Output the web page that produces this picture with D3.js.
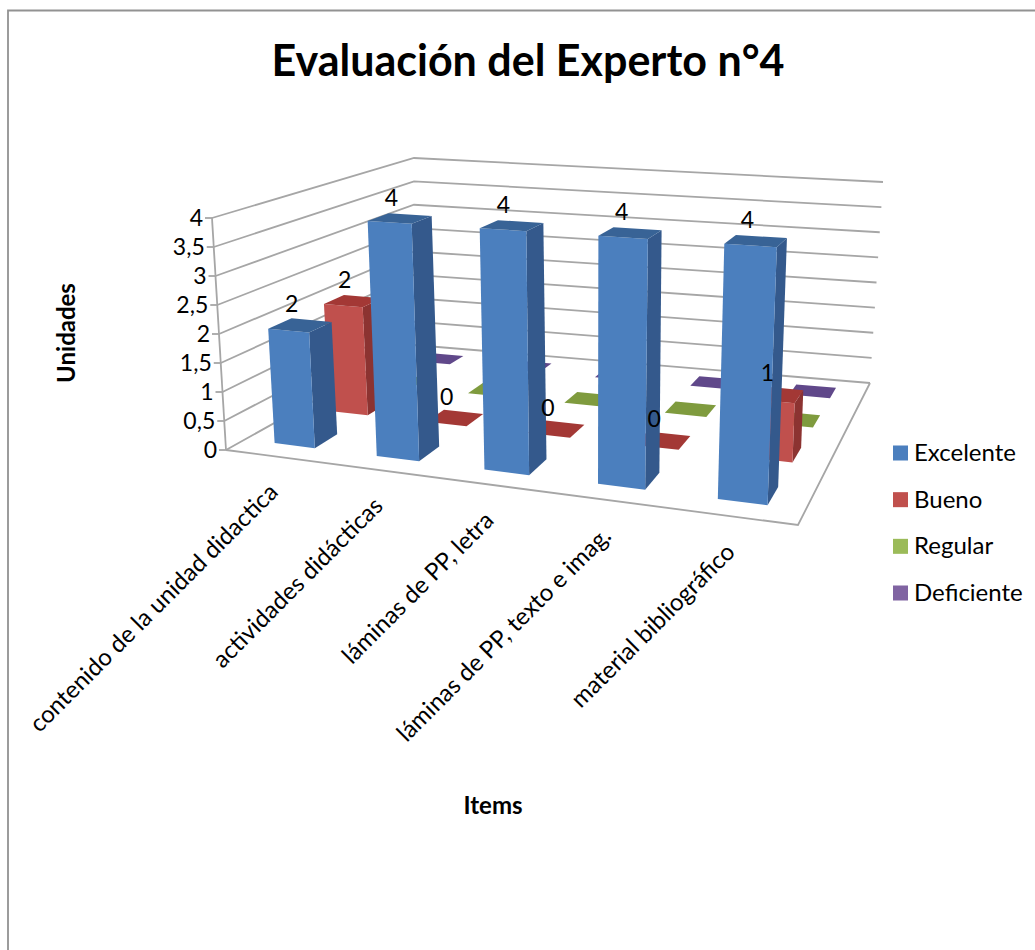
<!DOCTYPE html>
<html>
<head>
<meta charset="utf-8">
<script src="https://cdn.jsdelivr.net/npm/d3@7"></script>
<style>
  html, body { margin: 0; padding: 0; background: #fff; }
  svg { display: block; }
  text { font-family: Lato, "Open Sans", sans-serif; fill: #000; }
</style>
</head>
<body>
<div id="chart"></div>
<script>
// data
var categories = ["contenido de la unidad didactica", "actividades didácticas", "láminas de PP, letra", "láminas de PP, texto e imag.", "material bibliográfico"];
var seriesNames = ["Excelente", "Bueno", "Regular", "Deficiente"];
var excelente = [2, 4, 4, 4, 4];
var bueno = [2, 0, 0, 0, 1];
var regular = [0, 0, 0, 0, 0];
var deficiente = [0, 0, 0, 0, 0];
var yTicks = [0, 0.5, 1, 1.5, 2, 2.5, 3, 3.5, 4];
var yTickLabels = ["0", "0,5", "1", "1,5", "2", "2,5", "3", "3,5", "4"];

var seriesValues = [excelente, bueno, regular, deficiente];
var labelled = [true, true, false, false];

var width = 1035, height = 950;

var colors = [
    {front: "#4b7fbe", side: "#34598c", top: "#386396"},
    {front: "#c0504d", side: "#8c3331", top: "#a33835"},
    {front: "#9bbb59", side: "#6f8a3a", top: "#7f9b3e"},
    {front: "#8064a2", side: "#564077", top: "#60488a"}
];

// corners of the chart box on screen: front left, front right, back right, back left
var floorQuad = [[226, 450], [798, 525], [870, 383], [414, 345]];
var topQuad = [[212, 218], [810, 257], [883, 182], [414, 158]];

// unit square -> quad (projective)
function homography(q) {
    var dx1 = q[1][0] - q[2][0], dx2 = q[3][0] - q[2][0], sx = q[0][0] - q[1][0] + q[2][0] - q[3][0];
    var dy1 = q[1][1] - q[2][1], dy2 = q[3][1] - q[2][1], sy = q[0][1] - q[1][1] + q[2][1] - q[3][1];
    var den = dx1 * dy2 - dx2 * dy1;
    var g = (sx * dy2 - dx2 * sy) / den, h = (dx1 * sy - sx * dy1) / den;
    var a = q[1][0] - q[0][0] + g * q[1][0], b = q[3][0] - q[0][0] + h * q[3][0], c = q[0][0];
    var d = q[1][1] - q[0][1] + g * q[1][1], e = q[3][1] - q[0][1] + h * q[3][1], f = q[0][1];
    return function(u, v) {
        var w = g * u + h * v + 1;
        return [(a * u + b * v + c) / w, (d * u + e * v + f) / w];
    };
}
var floorH = homography(floorQuad), topH = homography(topQuad);

var x = d3.scaleBand().domain(d3.range(categories.length)).range([0, 1]).paddingInner(0.6).paddingOuter(0.3);
var z = d3.scaleBand().domain(d3.range(seriesNames.length)).range([0, 1]).paddingInner(0.6).paddingOuter(0.3);
var y = d3.scaleLinear().domain([0, 4]).range([0, 1]);

// the picture is not a clean perspective, nudge the middle of the box a bit
function warp(t, k) { return t + k * t * (1 - t); }

// u along categories, v into depth, val on the value axis
function project(u, v, val) {
    var a = floorH(warp(u, 0.066), warp(v, 0.08)), b = topH(warp(u, -0.035), v), t = y(val);
    return [a[0] + (b[0] - a[0]) * t, a[1] + (b[1] - a[1]) * t];
}

var line = d3.line();

var svg = d3.select("#chart").append("svg").attr("width", width).attr("height", height);

svg.append("rect").attr("width", width).attr("height", height).attr("fill", "#fff");
svg.append("path")
    .attr("d", "M8,950V10.5H1035")
    .attr("fill", "none").attr("stroke", "#929292").attr("stroke-width", 1.8);

svg.append("text").attr("x", 528).attr("y", 76)
    .attr("text-anchor", "middle").attr("font-size", 43).attr("font-weight", 700)
    .text("Evaluación del Experto n°4");

// walls and floor
var grid = svg.append("g").attr("fill", "none").attr("stroke", "#a6a6a6").attr("stroke-width", 1.8);
yTicks.forEach(function(t) {
    grid.append("path").attr("d", line([project(0, 0, t), project(0, 1, t), project(1, 1, t)]));
    var p = project(0, 0, t);
    grid.append("path").attr("d", line([[p[0] - 7, p[1]], p]));
});
grid.append("path").attr("d", line([project(0, 0, 0), project(0, 0, 4)]));
grid.append("path").attr("d", line([project(0, 0, 0), project(1, 0, 0), project(1, 1, 0)]));

yTicks.forEach(function(t, i) {
    var p = project(0, 0, t);
    svg.append("text").attr("x", p[0] - 9).attr("y", p[1] + 8)
        .attr("text-anchor", "end").attr("font-size", 23).text(yTickLabels[i]);
});

// bars, back row first, left to right
var bars = svg.append("g");
d3.range(seriesNames.length).reverse().forEach(function(s) {
    var z0 = z(s), z1 = z(s) + z.bandwidth();
    categories.forEach(function(c, i) {
        var v = seriesValues[s][i];
        var x0 = x(i), x1 = x(i) + x.bandwidth();
        var g = bars.append("g");
        if (v > 0) {
            g.append("path").attr("fill", colors[s].side)
                .attr("d", line([project(x1, z0, 0), project(x1, z1, 0), project(x1, z1, v), project(x1, z0, v)]) + "Z");
            g.append("path").attr("fill", colors[s].front)
                .attr("d", line([project(x0, z0, 0), project(x1, z0, 0), project(x1, z0, v), project(x0, z0, v)]) + "Z");
        }
        g.append("path").attr("fill", colors[s].top)
            .attr("d", line([project(x0, z0, v), project(x1, z0, v), project(x1, z1, v), project(x0, z1, v)]) + "Z");
    });
});

// data labels on top of everything
seriesValues.forEach(function(vals, s) {
    if (!labelled[s]) return;
    vals.forEach(function(v, i) {
        var p = project(x(i) + x.bandwidth() / 2, z(s) + z.bandwidth() / 2, v);
        svg.append("text").attr("x", p[0] - 8.5).attr("y", p[1] - 13)
            .attr("text-anchor", "middle").attr("font-size", 23).text(v);
    });
});

// category labels
categories.forEach(function(c, i) {
    var p = project(x(i) + x.bandwidth() / 2, 0, 0);
    svg.append("text")
        .attr("transform", "translate(" + (p[0] + 3) + "," + (p[1] + 37) + ") rotate(-45)")
        .attr("text-anchor", "end").attr("font-size", 24).text(c);
});

svg.append("text").attr("transform", "translate(75,333) rotate(-90)")
    .attr("text-anchor", "middle").attr("font-size", 24).attr("font-weight", 700).text("Unidades");
svg.append("text").attr("x", 493).attr("y", 814)
    .attr("text-anchor", "middle").attr("font-size", 24).attr("font-weight", 700).text("Items");

// legend
var legendY = d3.scalePoint().domain(seriesNames).range([453, 593]);
var legend = svg.append("g");
seriesNames.forEach(function(n, s) {
    legend.append("rect").attr("x", 893).attr("y", legendY(n) - 7.5).attr("width", 15).attr("height", 15)
        .attr("fill", colors[s].front);
    legend.append("text").attr("x", 914).attr("y", legendY(n) + 8).attr("font-size", 24).text(n);
});
</script>
</body>
</html>
